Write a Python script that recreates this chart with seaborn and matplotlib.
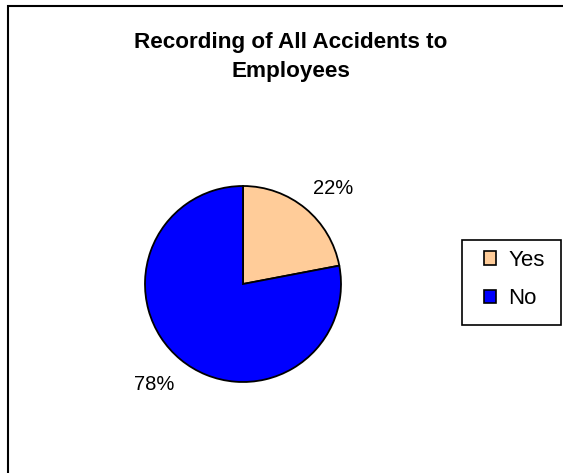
import matplotlib
matplotlib.use("Agg")
import matplotlib.pyplot as plt
from matplotlib.patches import Rectangle, Patch
import seaborn as sns

categories = ["Yes", "No"]
values = [22, 78]
colors = ["#FFCC99", "#0000FF"]
title = "Recording of All Accidents to\nEmployees"

sns.set_theme(style="white")
plt.rcParams['font.family'] = ['Liberation Sans', 'DejaVu Sans']
plt.rcParams['text.color'] = 'black'

W, H = 563, 473
fig = plt.figure(figsize=(W / 100, H / 100), dpi=100)
fig.patch.set_facecolor("white")

# outer chart frame (cut off at right and bottom, as in the reference)
fig.patches.append(Rectangle((8 / W, -0.2), 1.2, 1 - 6 / H + 0.2,
                             transform=fig.transFigure, fill=False,
                             edgecolor="black", linewidth=1.5))

cx, cy, r = 243, 284, 98
ax = fig.add_axes([(cx - r) / W, (H - cy - r) / H, 2 * r / W, 2 * r / H])
wedges, texts, autotexts = ax.pie(
    values, colors=colors, startangle=90, counterclock=False,
    autopct=lambda p: f"{p:.0f}%", pctdistance=1.36,
    wedgeprops=dict(edgecolor="black", linewidth=1.3),
    textprops=dict(fontsize=14.5, color="black"))
# label placement as in the reference (outside end)
autotexts[0].set_position((0.92, 0.97))
autotexts[1].set_position((-0.91, -1.03))
ax.set_xlim(-1, 1)
ax.set_ylim(-1, 1)
ax.set_aspect("equal")
ax.axis("off")

fig.text(291 / W, 1 - 57 / H, title, ha="center", va="center",
         fontsize=16.2, fontweight="bold", linespacing=1.45, color="black")

# legend frame
lx0, ly0, lx1, ly1 = 462, 240, 561, 325
fig.patches.append(Rectangle((lx0 / W, 1 - ly1 / H), (lx1 - lx0) / W, (ly1 - ly0) / H,
                             transform=fig.transFigure, fill=True, facecolor="white",
                             edgecolor="black", linewidth=1.2, zorder=3))

handles = [Patch(facecolor=c, edgecolor="black", linewidth=1.2) for c in colors]
leg = fig.legend(handles, categories, loc="upper left",
                 bbox_to_anchor=(484 / W, 1 - 250 / H),
                 fontsize=16, frameon=False,
                 handlelength=0.55, handleheight=0.55, handletextpad=0.55,
                 labelspacing=0.78, borderpad=0, borderaxespad=0)
leg.set_zorder(4)

fig.savefig("out.png", dpi=100, facecolor="white")
